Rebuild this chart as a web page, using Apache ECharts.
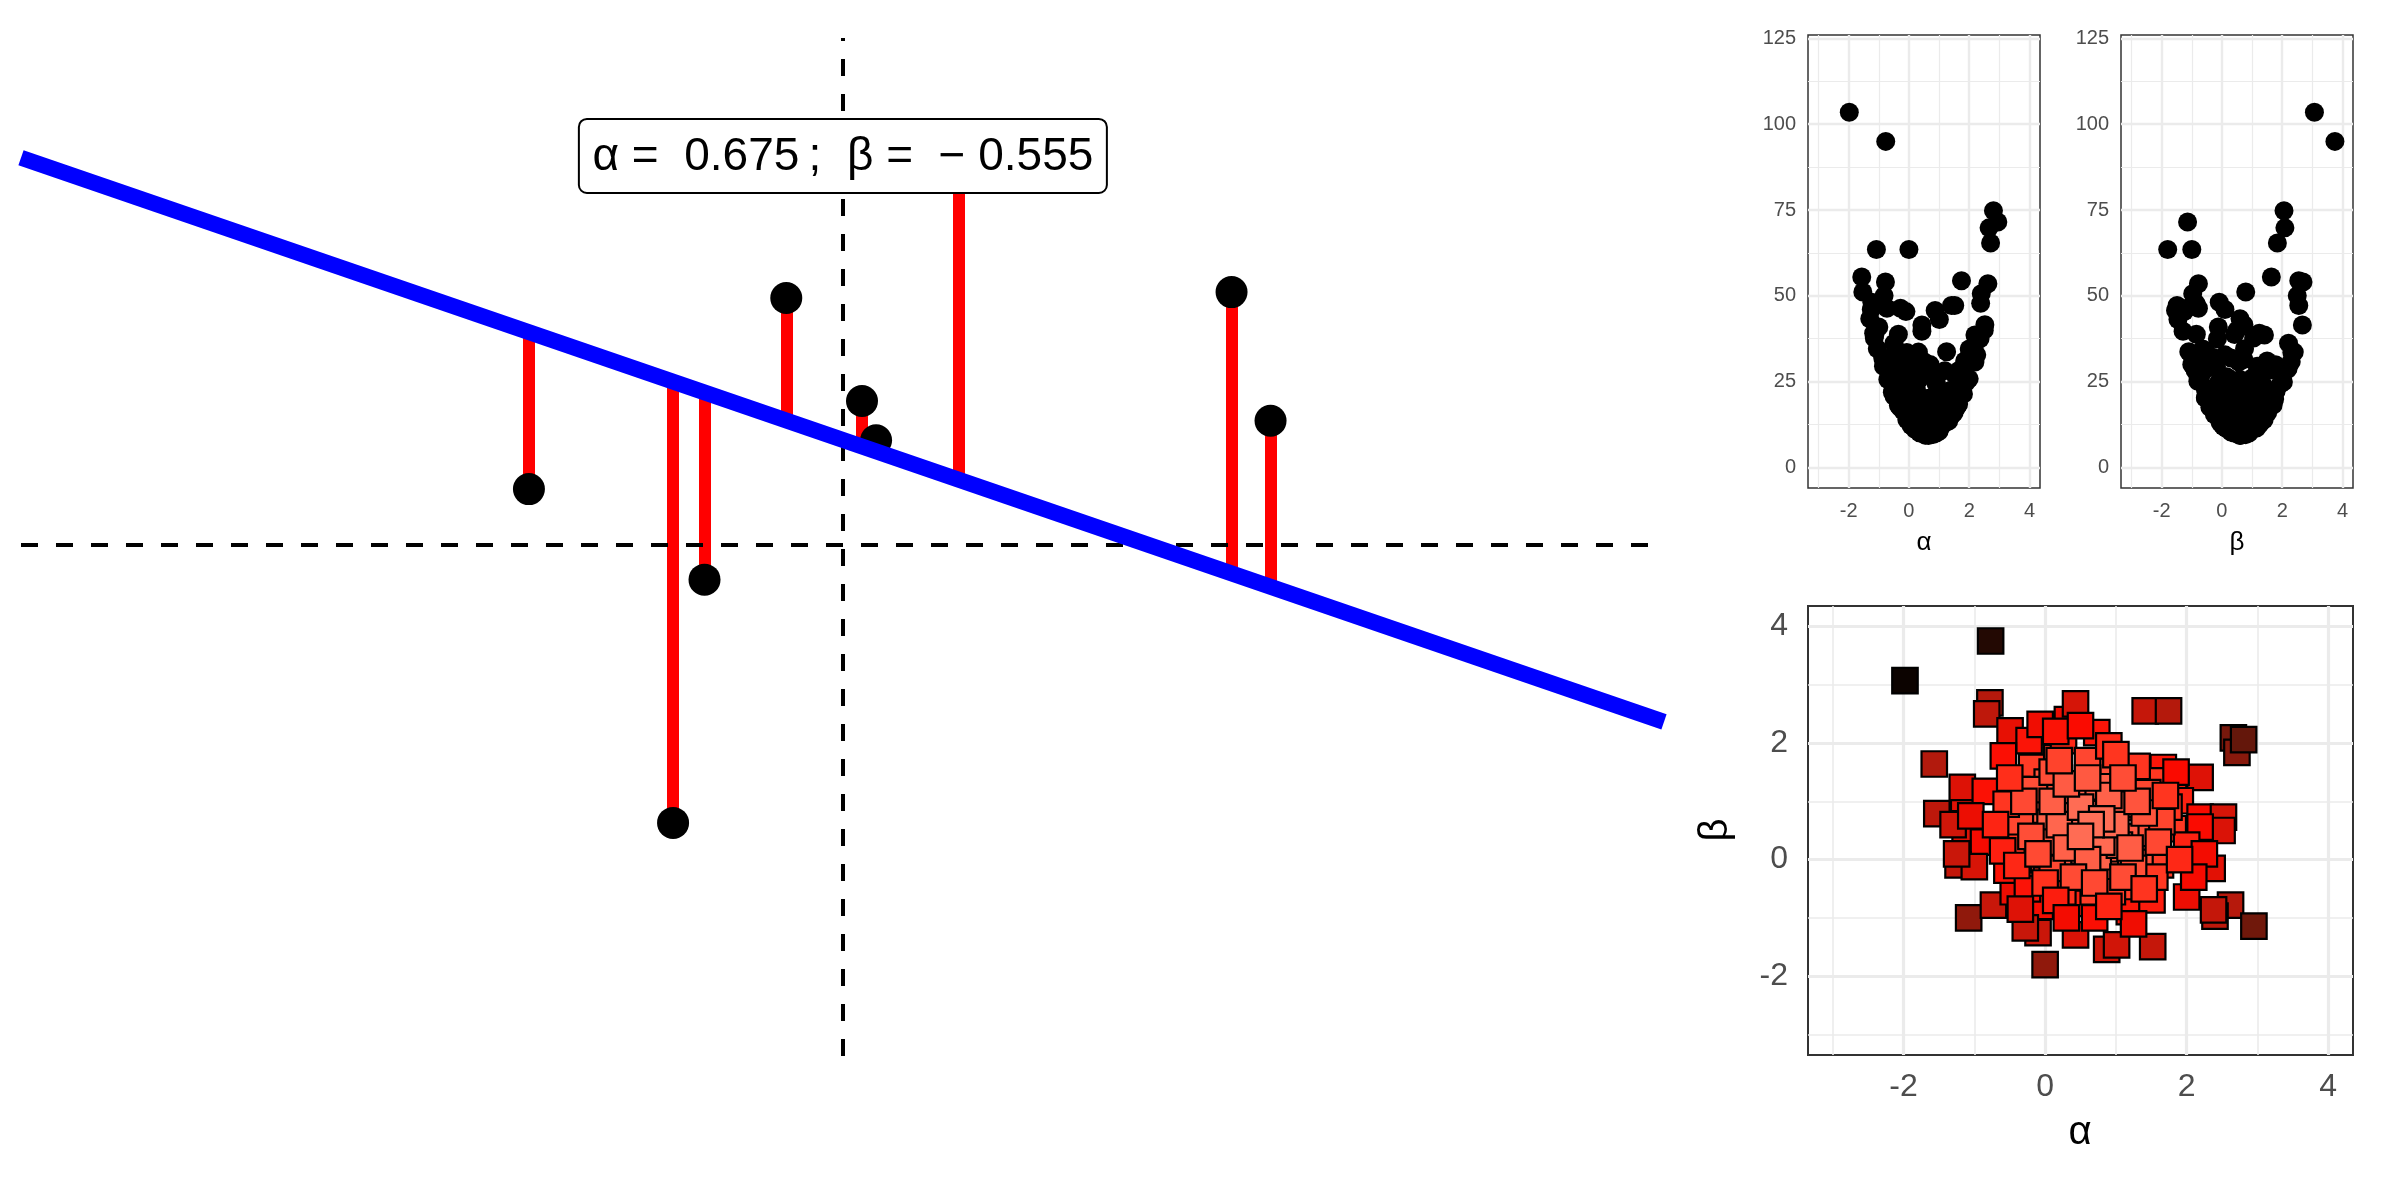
<!DOCTYPE html>
<html><head><meta charset="utf-8">
<script src="https://cdn.jsdelivr.net/npm/echarts@6/dist/echarts.min.js"></script>
<style>html,body{margin:0;padding:0;background:#fff}#c{width:2400px;height:1200px}</style>
</head><body><div id="c"></div>
<script>
// ---- current line parameters ----
const alphaHat = 0.675;
const betaHat = -0.555;
// ---- observed points (left panel) ----
const obsX = [-1.248, -0.675, -0.550, -0.225, 0.076, 0.132, 0.459, 1.545, 1.700];
const obsY = [0.359, -1.786, -0.223, 1.587, 0.925, 0.673, 2.50, 1.625, 0.798];
// ---- sampled (alpha, beta) pairs and their loss ----
const sampAlpha = [-1.98,-0.77,-0.78,-0.825,-1.566,-1.15,-1.17,-0.845,-0.495,-0.226,-0.07,0.315,-0.59,-0.19,0.03,0.165,0.26,-1.53,-0.495,-0.07,
  1.414,1.744,2.66,2.71,2.805,1.67,2.19,1.815,0.78,1.13,0.43,0.73,1.04,1.91,2.19,2.52,1.51,0.54,-1.13,-0.87,
  -1.23,-1.0,-1.08,-0.73,-0.45,-0.07,-0.1,-0.28,0.0,-0.54,-0.21,0.07,-0.47,-0.02,0.43,0.36,0.02,0.28,2.50,2.19,
  2.36,2.0,2.62,2.4,2.38,2.95,0.87,1.01,1.52,1.19,1.51,1.63,1.01,0.61,0.68,1.34,0.92,1.32,1.81,0.54,1.19,
  -0.35,-0.6,1.75,1.55,0.85,0.45,0.05,1.15,0.75,0.35,1.5,0.95,-0.25,0.25,1.85,-0.4,2.0,0.6,1.3,-0.15,
  1.25,0.1,-0.55,1.65,0.55,-1.3,-1.25,-1.05,2.25,2.1,0.9,0.15,0.7,1.25,-0.35,0.1,1.45,0.4,0.75,1.05,
  0.2,0.5,0.8,0.3,1.0,0.6,0.1,0.9,1.2,0.4,0.7,1.4,-0.2,0.0,1.1,0.3,0.6,1.3,-0.3,0.8,0.65,1.6,1.7,-0.4,0.15,0.9,1.4,-0.5,0.2,1.0,-0.1,0.5,1.1,1.9,-0.7,0.3,0.5];
const sampBeta = [3.07,3.75,2.69,2.50,1.64,1.05,1.24,1.17,2.21,2.04,2.32,2.40,1.78,1.58,1.33,1.75,2.04,0.79,0.79,0.85,
  2.55,2.55,2.09,1.84,2.06,1.58,1.41,1.27,1.52,1.47,2.67,2.18,0.90,1.01,0.73,0.73,1.35,0.79,0.42,0.30,
  -0.09,-0.12,-1.0,-0.78,-0.55,-0.80,-1.25,-1.17,-1.8,-0.18,-0.21,0.64,0.28,0.0,-1.29,-0.75,-0.35,-0.01,0.50,0.56,
  -0.15,-0.64,-0.78,-0.97,-0.86,-1.14,-1.54,-1.46,-1.49,-0.89,-0.69,-0.09,-0.09,-0.06,-0.55,0.05,0.47,0.39,0.53,0.62,-0.46,
  0.65,0.15,0.9,-0.3,-0.25,1.15,0.3,0.95,1.25,0.75,0.45,-0.55,-0.5,-0.55,1.5,1.2,0.25,1.7,1.6,1.2,
  -0.15,-0.15,0.95,0.65,0.15,0.6,0.1,0.75,0.1,-0.3,1.95,2.2,-1.0,-1.1,-0.85,1.5,1.15,0.5,0.05,0.25,
  0.6,0.9,0.3,0.2,0.6,0.0,1.0,1.1,0.2,-0.3,-0.4,0.8,0.4,-0.4,-0.3,1.3,1.4,1.0,1.0,0.7,0.6,0.3,1.1,-0.1,-0.7,-0.8,-0.5,1.4,1.7,1.8,0.1,0.4,1.4,0.0,0.6,-1.0,2.3];
const sampLoss = [103.5,95,54,50,55.5,37.7,39.1,29.5,36.2,28.8,33.5,33.6,29.9,20.7,15.5,19.9,24.9,51.1,20.7,13.9,
  47.2,54.4,69.8,65.4,74.8,28.3,38.6,26.7,16.0,18.0,41.5,28.6,11.6,26.1,31.4,41.6,21.7,9.55,38.7,31.9,
  48.1,40.9,63.5,46.4,34.0,32.4,45.4,46.4,63.5,29.3,23.1,12.2,22.3,17.3,39.7,25.9,21.8,14.2,40.0,30.7,
  37.5,34.5,53.5,50.6,47.8,71.5,45.7,43.1,47.2,28.2,27.1,20.5,14.0,13.1,20.2,15.4,10.1,13.5,21.4,9.4,19.9,
  18.1,26.4,21.7,21.5,15.4,11.5,13.8,12.8,12.6,10.1,15.9,20.3,28.9,22.7,31.0,20.2,25.8,18.2,22.2,16.4,
  16.3,17.7,21.9,18.5,11.3,43.3,46.0,34.6,32.8,32.1,24.4,29.0,30.0,33.7,38.8,16.8,18.3,10.0,11.9,11.6,
  11.1,10.0,10.3,12.2,10.5,12.5,12.5,11.9,13.0,17.2,17.5,15.0,16.5,22.9,17.0,13.3,13.9,14.9,17.5,9.6,9.3,17.7,22.3,25.0,26.9,25.1,22.5,23.6,18.9,22.3,17.4,10.0,16.7,24.8,25.6,32.6,30.8];
// ---- tick / grid values ----
const parTicksMajor = [-2, 0, 2, 4];
const parTicksMinor = [-3, -1, 1, 3];
const lossTicksMajor = [0, 25, 50, 75, 100, 125];
const lossTicksMinor = [12.5, 37.5, 62.5, 87.5, 112.5];
const lossColors = ['#FF7058','#FF5F47','#FF4C35','#FF321D','#FA0A00','#D41508','#AF1A0D','#5E170B','#0C0300'];

const FONT = '"Liberation Sans", Arial, Helvetica, sans-serif';
const GRIDC = '#EBEBEB';
const main = {xmin: -3.267, xmax: 3.264, ymin: -3.284, ymax: 3.258};
const labelY = 2.50;

function gridLines(xi, xMaj, xMin, yMaj, yMin, wMaj, wMin) {
  const d = [];
  xMin.forEach(v => d.push({xAxis: v, lineStyle: {color: GRIDC, width: wMin, type: 'solid'}}));
  yMin.forEach(v => d.push({yAxis: v, lineStyle: {color: GRIDC, width: wMin, type: 'solid'}}));
  xMaj.forEach(v => d.push({xAxis: v, lineStyle: {color: GRIDC, width: wMaj, type: 'solid'}}));
  yMaj.forEach(v => d.push({yAxis: v, lineStyle: {color: GRIDC, width: wMaj, type: 'solid'}}));
  return {type: 'scatter', xAxisIndex: xi, yAxisIndex: xi, data: [], z: 1, silent: true,
    markLine: {z: 1, silent: true, symbol: 'none', animation: false, label: {show: false}, precision: 4, data: d}};
}
function smallX(gi, maj, fs, tickLen, margin, tw) {
  return {gridIndex: gi, type: 'value', min: -3.35, max: 4.35,
    axisLine: {show: false}, splitLine: {show: false},
    axisTick: {show: true, customValues: maj, length: tickLen, lineStyle: {color: '#333', width: tw}},
    axisLabel: {customValues: maj, fontSize: fs, color: '#4D4D4D', fontFamily: FONT, margin: margin}};
}
function smallY(gi, min, max, maj, fs, tickLen, margin, tw) {
  return {gridIndex: gi, type: 'value', min: min, max: max,
    axisLine: {show: false}, splitLine: {show: false},
    axisTick: {show: true, customValues: maj, length: tickLen, lineStyle: {color: '#333', width: tw}},
    axisLabel: {customValues: maj, fontSize: fs, color: '#4D4D4D', fontFamily: FONT, margin: margin}};
}

const fmt = v => (v < 0 ? '\u2212 ' : '') + Math.abs(v).toFixed(3);
const labelText = 'α =  ' + alphaHat.toFixed(3) + '\u2009;  β =  ' + fmt(betaHat);

const segData = obsX.map((x, i) => ({coords: [[x, obsY[i]], [x, alphaHat + betaHat * x]]}));
const lineData = [[main.xmin, alphaHat + betaHat * main.xmin], [main.xmax, alphaHat + betaHat * main.xmax]];
const sampData = sampAlpha.map((a, i) => [a, sampBeta[i], sampLoss[i], Math.log(sampLoss[i])]);
const lnMin = Math.log(Math.min(...sampLoss));
const lnMax = Math.log(Math.max(...sampLoss));

const titleStyle = (t, fs) => ({text: t, fontSize: fs, fontFamily: FONT, fill: '#000',
  align: 'center', verticalAlign: 'middle', textAlign: 'center', textVerticalAlign: 'middle'});

const chart = echarts.init(document.getElementById('c'));
chart.setOption({
  animation: false,
  backgroundColor: '#ffffff',
  textStyle: {fontFamily: FONT},
  grid: [
    {left: 21, top: 38, width: 1643, height: 1018, show: false},
    {left: 1808, top: 35, width: 232, height: 453, show: true, borderColor: '#333', borderWidth: 1.5, backgroundColor: 'transparent'},
    {left: 2121, top: 35, width: 232, height: 453, show: true, borderColor: '#333', borderWidth: 1.5, backgroundColor: 'transparent'},
    {left: 1808, top: 606, width: 545, height: 449, show: true, borderColor: '#333', borderWidth: 2, backgroundColor: 'transparent'}
  ],
  xAxis: [
    {gridIndex: 0, type: 'value', min: main.xmin, max: main.xmax, show: false},
    smallX(1, parTicksMajor, 20, 7, 13, 1.5),
    smallX(2, parTicksMajor, 20, 7, 13, 1.5),
    smallX(3, parTicksMajor, 32, 11, 16, 2.5)
  ],
  yAxis: [
    {gridIndex: 0, type: 'value', min: main.ymin, max: main.ymax, show: false},
    smallY(1, -6, 126, lossTicksMajor, 20, 7, 12, 1.5),
    smallY(2, -6, 126, lossTicksMajor, 20, 7, 12, 1.5),
    smallY(3, -3.35, 4.35, parTicksMajor, 32, 11, 20, 2.5)
  ],
  visualMap: {type: 'continuous', show: false, seriesIndex: 9, dimension: 3,
    min: lnMin, max: lnMax, inRange: {color: lossColors}},
  series: [
    // 0 residual segments
    {type: 'lines', coordinateSystem: 'cartesian2d', xAxisIndex: 0, yAxisIndex: 0, z: 1, silent: true,
      lineStyle: {color: '#FF0000', width: 12, opacity: 1, cap: 'butt'}, data: segData},
    // 1 dashed reference lines
    {type: 'scatter', xAxisIndex: 0, yAxisIndex: 0, data: [], z: 2,
      markLine: {z: 2, silent: true, symbol: 'none', animation: false, label: {show: false},
        lineStyle: {color: '#000', width: 4, type: [17, 18]},
        data: [{xAxis: 0}, {yAxis: 0}]}},
    // 2 observed points
    {type: 'scatter', xAxisIndex: 0, yAxisIndex: 0, z: 3, symbolSize: 32,
      itemStyle: {color: '#000', opacity: 1}, data: obsX.map((x, i) => [x, obsY[i]])},
    // 3 fitted line
    {type: 'line', xAxisIndex: 0, yAxisIndex: 0, z: 4, symbol: 'none', data: lineData,
      lineStyle: {color: '#0000FF', width: 16, cap: 'butt'}},
    // 4-6 gridlines
    gridLines(1, parTicksMajor, parTicksMinor, lossTicksMajor, lossTicksMinor, 2.4, 1.2),
    gridLines(2, parTicksMajor, parTicksMinor, lossTicksMajor, lossTicksMinor, 2.4, 1.2),
    gridLines(3, parTicksMajor, parTicksMinor, parTicksMajor, parTicksMinor, 3.2, 1.6),
    // 7 loss vs alpha
    {type: 'scatter', xAxisIndex: 1, yAxisIndex: 1, z: 3, symbolSize: 19, itemStyle: {color: '#000', opacity: 1},
      data: sampAlpha.map((a, i) => [a, sampLoss[i]])},
    // 8 loss vs beta
    {type: 'scatter', xAxisIndex: 2, yAxisIndex: 2, z: 3, symbolSize: 19, itemStyle: {color: '#000', opacity: 1},
      data: sampBeta.map((b, i) => [b, sampLoss[i]])},
    // 9 alpha vs beta coloured by loss
    {type: 'scatter', xAxisIndex: 3, yAxisIndex: 3, z: 3, symbol: 'rect', symbolSize: 25.5,
      itemStyle: {borderColor: '#000', borderWidth: 2.2, opacity: 1}, data: sampData}
  ],
  graphic: [
    {type: 'text', id: 't1', x: 1924, y: 543, style: titleStyle('α', 26)},
    {type: 'text', id: 't2', x: 2237, y: 543, style: titleStyle('β', 26)},
    {type: 'text', id: 't3', x: 2080, y: 1133, style: titleStyle('α', 40)},
    {type: 'text', id: 't4', x: 1716, y: 830, rotation: Math.PI / 2, style: titleStyle('β', 40)}
  ]
});

// label box anchored at (0, labelY) in data space
const p = chart.convertToPixel({xAxisIndex: 0, yAxisIndex: 0}, [0, labelY]);
chart.setOption({
  graphic: [
    {type: 'rect', id: 'lblBox', z: 100, shape: {x: p[0] - 264, y: p[1] - 37, width: 528, height: 74, r: 8},
      style: {fill: '#ffffff', stroke: '#000000', lineWidth: 2}},
    {type: 'text', id: 'lblText', z: 101, x: p[0], y: p[1] + 1,
      style: {text: labelText, fontSize: 46, fontFamily: FONT, fill: '#000',
        align: 'center', verticalAlign: 'middle', textAlign: 'center', textVerticalAlign: 'middle'}}
  ]
});
</script>
</body></html>
